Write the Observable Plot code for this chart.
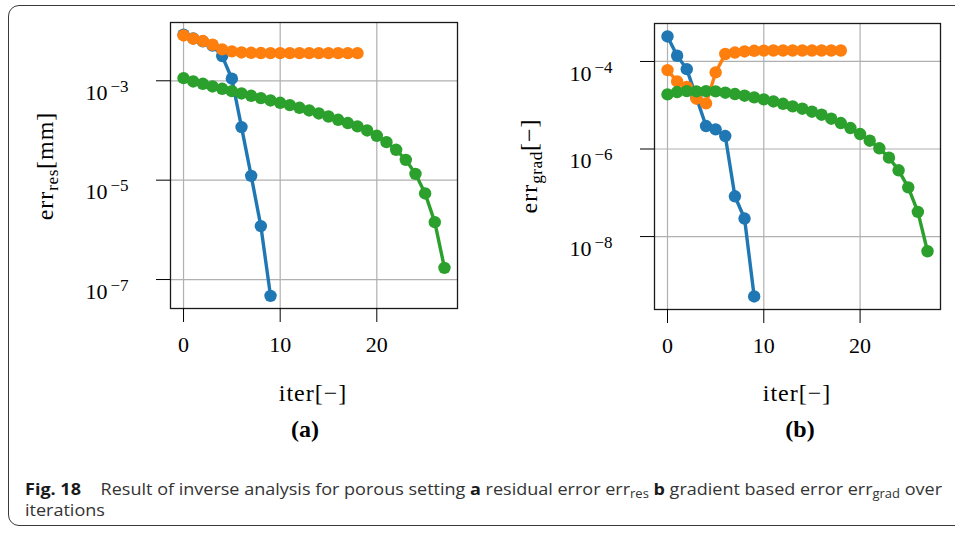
<!DOCTYPE html>
<html>
<head>
<meta charset="utf-8">
<script src="https://cdn.jsdelivr.net/npm/d3@7"></script>
<script src="https://cdn.jsdelivr.net/npm/@observablehq/plot@0.6"></script>
<style>
  html, body { margin: 0; padding: 0; background: #fff; }
  body { width: 955px; height: 533px; overflow: hidden; position: relative; }
  #box { position: absolute; left: 8px; top: 5px; width: 990px; height: 521px;
         border: 1.3px solid #3a3a3a; border-radius: 11px; box-sizing: border-box; }
  .panel { position: absolute; top: 0; }
  .panel svg text { font-family: "Liberation Serif", serif !important; }
  .lab { position: absolute; font-family: "Liberation Serif", serif; color: #000; white-space: nowrap; line-height: 1; }
  .xlab { font-size: 24px; letter-spacing: 1px; transform: translateX(-50%); }
  .ylab { font-size: 24px; letter-spacing: 1px; transform: translate(-50%, -50%) rotate(-90deg); }
  .ylab sub { font-size: 0.72em; vertical-align: -0.28em; letter-spacing: 0.5px; }
  .sublab { font-size: 24px; font-weight: bold; transform: translateX(-50%); }
  #cap { position: absolute; left: 25px; top: 478px; font-family: "Open Sans", sans-serif; font-size: 16.5px;
         line-height: 21px; color: #333; white-space: nowrap; transform-origin: 0 0; }
  #cap b { color: #1a1a1a; font-weight: 700; }
  #cap .fig { margin-right: 18px; }
  #cap sub { font-size: 0.72em; vertical-align: -0.25em; line-height: 0; }
</style>
</head>
<body>
<div id="box"></div>
<div id="left" class="panel" style="left:0px"></div>
<div id="right" class="panel" style="left:480px"></div>

<div class="lab ylab" style="left:47px; top:166px">err<sub>res</sub>[mm]</div>
<div class="lab ylab" style="left:531px; top:166px">err<sub>grad</sub>[−]</div>
<div class="lab xlab" style="left:313px; top:381px">iter[−]</div>
<div class="lab xlab" style="left:797px; top:381px">iter[−]</div>
<div class="lab sublab" style="left:305px; top:417px">(a)</div>
<div class="lab sublab" style="left:800px; top:417px">(b)</div>

<div id="cap"><span id="capline"><b class="fig">Fig. 18</b>Result of inverse analysis for porous setting <b>a</b> residual error err<sub>res</sub> <b>b</b> gradient based error err<sub>grad</sub> over</span><br>iterations</div>

<script>
// Iteration index shared by every series
const iterations = [0, 1, 2, 3, 4, 5, 6, 7, 8, 9, 10, 11, 12, 13, 14, 15, 16, 17, 18, 19, 20, 21, 22, 23, 24, 25, 26, 27];

// Axis ticks
const xTicks = [0, 10, 20];
const yTicksRes = [1e-3, 1e-5, 1e-7];
const yTicksGrad = [1e-4, 1e-6, 1e-8];

// Series colours
const colorBlue = "#1f77b4";
const colorOrange = "#ff7f0e";
const colorGreen = "#2ca02c";

// (a) residual error err_res [mm]
const resBlue = [8.5e-3, 7.1e-3, 6.2e-3, 5.13e-3, 3.14e-3, 1.10e-3, 1.17e-4, 1.22e-5, 1.19e-6, 4.69e-8];
const resOrange = [8.18e-3, 7.02e-3, 6.30e-3, 5.31e-3, 4.28e-3, 3.90e-3, 3.72e-3, 3.66e-3, 3.62e-3, 3.61e-3,
                   3.61e-3, 3.60e-3, 3.60e-3, 3.60e-3, 3.60e-3, 3.60e-3, 3.60e-3, 3.60e-3, 3.60e-3];
const resGreen = [1.13e-3, 9.70e-4, 8.71e-4, 7.69e-4, 6.90e-4, 6.19e-4, 5.56e-4, 4.99e-4, 4.48e-4, 4.02e-4,
                  3.61e-4, 3.24e-4, 2.86e-4, 2.53e-4, 2.20e-4, 1.91e-4, 1.64e-4, 1.41e-4, 1.21e-4, 1.00e-4,
                  7.82e-5, 5.82e-5, 4.08e-5, 2.56e-5, 1.34e-5, 5.40e-6, 1.43e-6, 1.72e-7];

// (b) gradient based error err_grad [-]
const gradBlue = [3.72e-4, 1.35e-4, 6.68e-5, 1.51e-5, 3.35e-6, 2.81e-6, 1.98e-6, 8.32e-8, 2.58e-8, 4.28e-10];
const gradOrange = [6.35e-5, 3.50e-5, 2.63e-5, 1.41e-5, 1.10e-5, 5.62e-5, 1.48e-4, 1.60e-4, 1.69e-4, 1.75e-4,
                    1.77e-4, 1.78e-4, 1.78e-4, 1.78e-4, 1.78e-4, 1.78e-4, 1.78e-4, 1.78e-4, 1.78e-4];
const gradGreen = [1.77e-5, 2.00e-5, 2.10e-5, 2.07e-5, 2.10e-5, 2.07e-5, 1.93e-5, 1.80e-5, 1.65e-5, 1.51e-5,
                   1.36e-5, 1.22e-5, 1.08e-5, 9.40e-6, 8.32e-6, 7.11e-6, 6.07e-6, 4.92e-6, 3.92e-6, 3.01e-6,
                   2.20e-6, 1.55e-6, 1.04e-6, 6.34e-7, 3.26e-7, 1.33e-7, 3.66e-8, 4.62e-9];

const ns = "http://www.w3.org/2000/svg";
const serif = "Liberation Serif";

function drawPanel({series, yTicks, yDomain, width, height, marginLeft, marginRight, marginTop, marginBottom}) {
  const marks = [
    Plot.gridX(xTicks, {stroke: "#b0b0b0", strokeOpacity: 1, strokeWidth: 1.2}),
    Plot.gridY(yTicks, {stroke: "#b0b0b0", strokeOpacity: 1, strokeWidth: 1.2})
  ];
  for (const s of series) {
    const rows = s.values.map((v, i) => ({iter: iterations[i], err: v}));
    marks.push(Plot.line(rows, {x: "iter", y: "err", stroke: s.color, strokeWidth: 3.4}));
    marks.push(Plot.dot(rows, {x: "iter", y: "err", fill: s.color, r: 6.2}));
  }
  marks.push(Plot.frame({stroke: "#1a1a1a", strokeWidth: 1.3}));
  marks.push(Plot.axisX(xTicks, {tickSize: 14, tickPadding: 14, fontSize: 22, fontFamily: serif, label: null}));
  marks.push(Plot.axisY(yTicks, {
    tickSize: 14, tickPadding: 71, textAnchor: "start", fontSize: 22, fontFamily: serif, label: null,
    tickFormat: d => "10^−" + Math.round(-Math.log10(d))
  }));
  const svg = Plot.plot({
    width, height, marginLeft, marginRight, marginTop, marginBottom,
    style: {fontFamily: serif, color: "#000", background: "transparent", overflow: "visible"},
    x: {domain: [-1.35, 28.35]},
    y: {type: "log", domain: yDomain},
    marks
  });
  // typeset the decade labels as 10 with a raised exponent
  svg.querySelectorAll('g[aria-label="y-axis tick label"] text').forEach(t => {
    const [base, exp] = t.textContent.split("^");
    t.textContent = "";
    const b = document.createElementNS(ns, "tspan");
    b.textContent = base;
    const e = document.createElementNS(ns, "tspan");
    e.textContent = exp;
    e.setAttribute("dy", "-8");
    e.setAttribute("dx", "3");
    e.setAttribute("font-size", "17");
    t.appendChild(b);
    t.appendChild(e);
    t.setAttribute("dy", "12");
  });
  return svg;
}

document.getElementById("left").appendChild(drawPanel({
  series: [
    {values: resBlue, color: colorBlue},
    {values: resOrange, color: colorOrange},
    {values: resGreen, color: colorGreen}
  ],
  yTicks: yTicksRes,
  yDomain: [Math.pow(10, -7.583), Math.pow(10, -1.827)],
  width: 470, height: 360, marginLeft: 170, marginRight: 13, marginTop: 22, marginBottom: 52
}));

document.getElementById("right").appendChild(drawPanel({
  series: [
    {values: gradBlue, color: colorBlue},
    {values: gradOrange, color: colorOrange},
    {values: gradGreen, color: colorGreen}
  ],
  yTicks: yTicksGrad,
  yDomain: [Math.pow(10, -9.666), Math.pow(10, -3.133)],
  width: 475, height: 360, marginLeft: 174, marginRight: 15, marginTop: 23, marginBottom: 51
}));

// condense the caption to the column width
const cap = document.getElementById("cap");
const line = document.getElementById("capline");
const w = line.getBoundingClientRect().width;
cap.style.transform = `scaleX(${917 / w})`;
</script>
</body>
</html>
